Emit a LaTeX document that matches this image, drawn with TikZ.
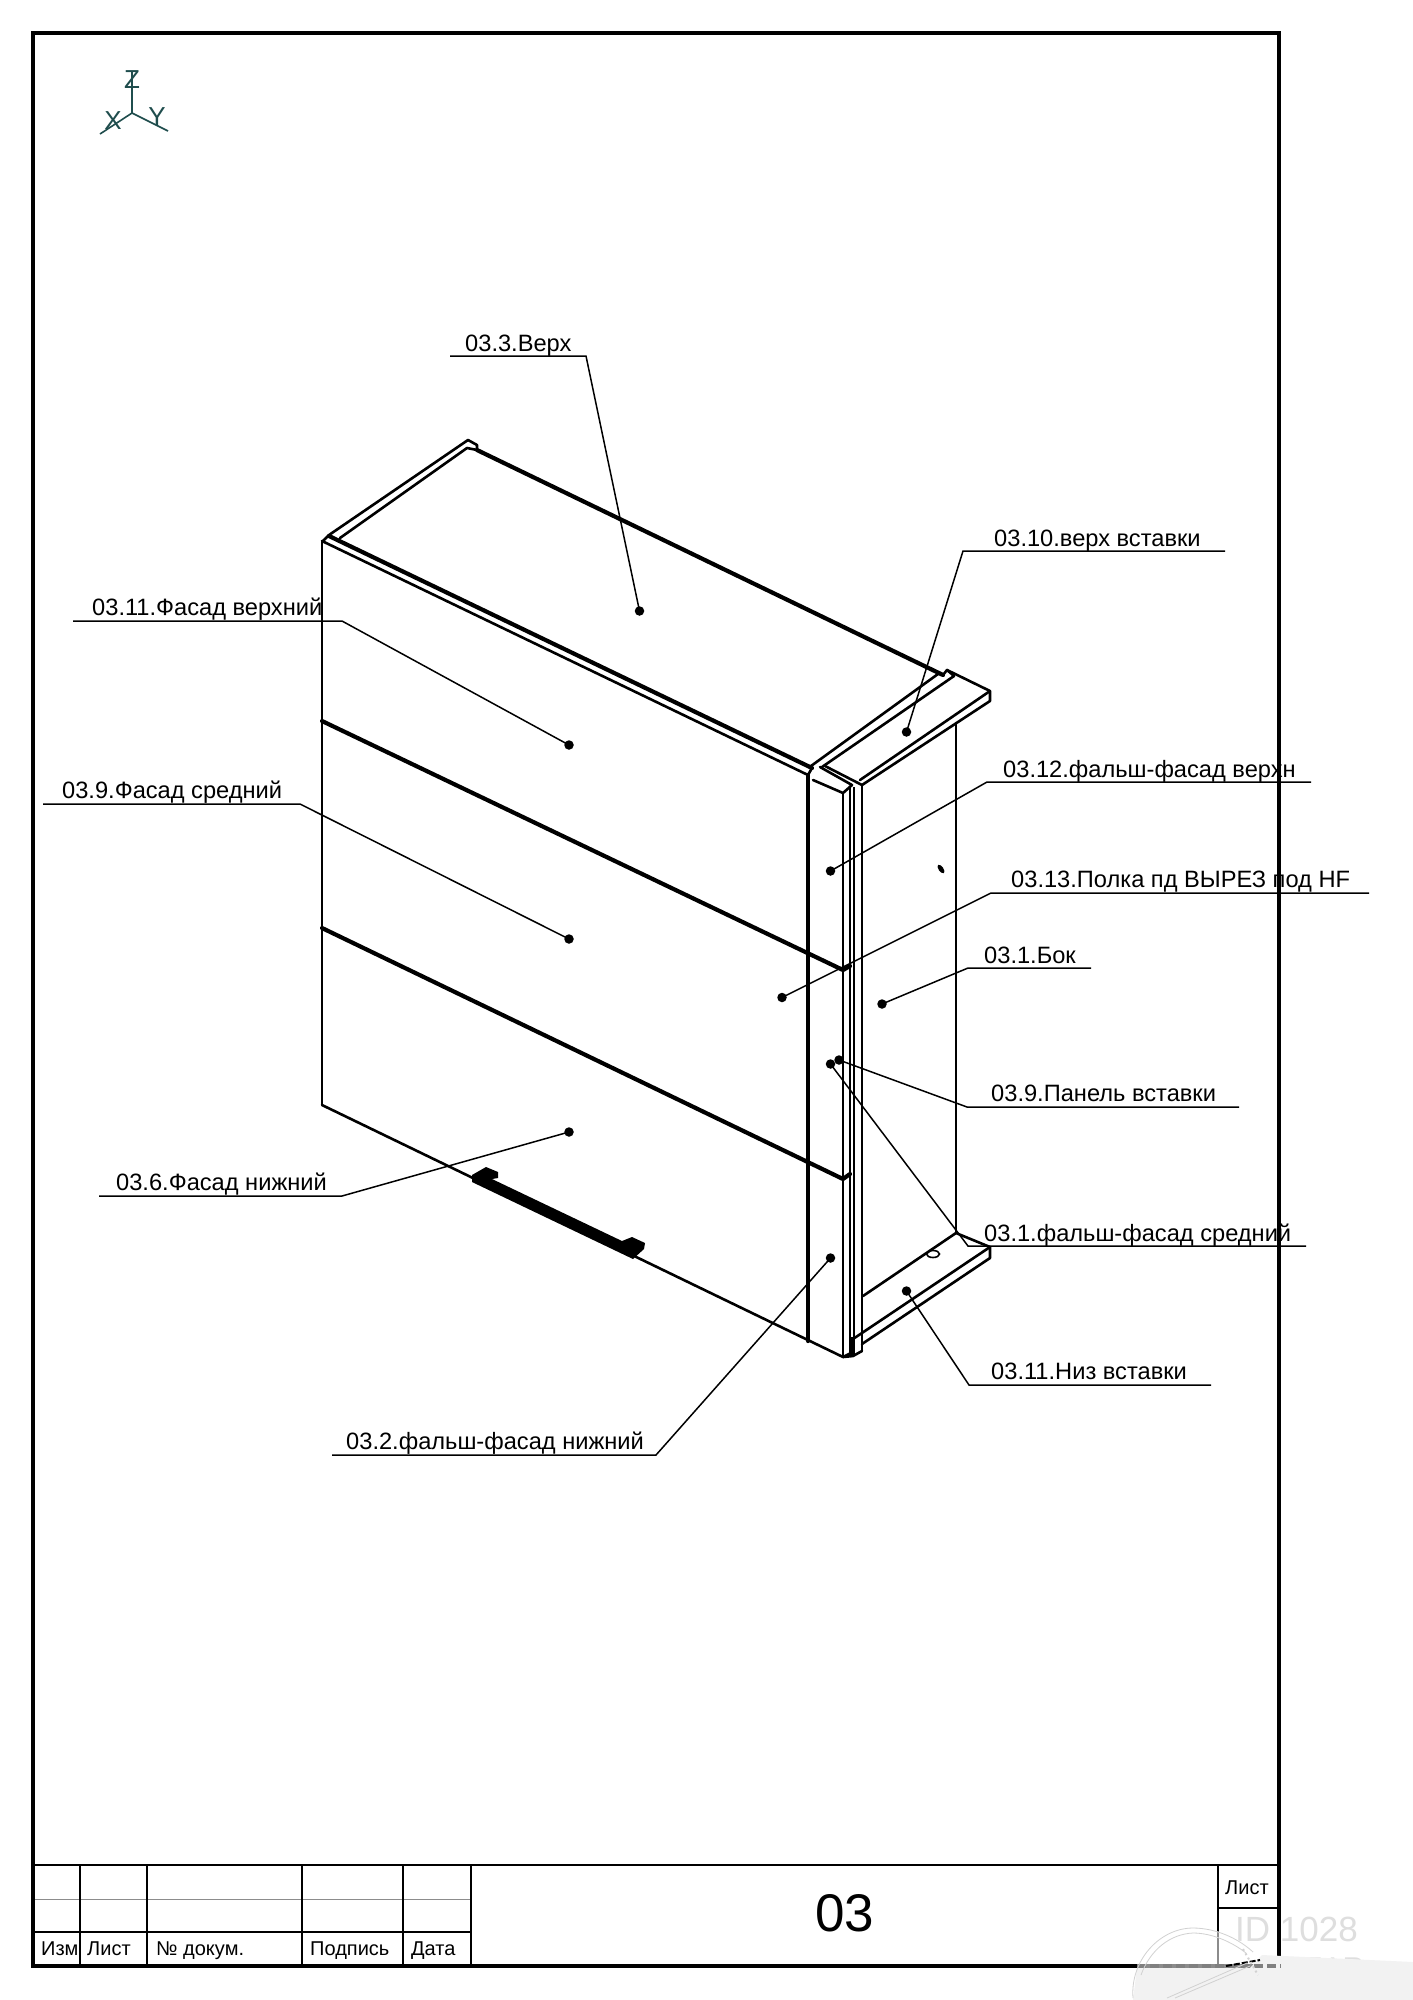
\documentclass[tikz,border=0pt]{standalone}
\usepackage{fontspec}
\setmainfont{Liberation Sans}
\definecolor{axiscol}{HTML}{1F4D4D}
\tikzset{
  edgeline/.style={line width=2.6pt,line cap=round,line join=round},
  thickedge/.style={line width=4.2pt,line cap=round,line join=round},
  leader/.style={line width=1.5pt},
  pin/.style={circle,fill=black,inner sep=0pt,minimum size=9.5pt},
  callout/.style={anchor=base west,inner sep=0pt,font=\fontsize{23.65}{27}\selectfont},
  cellline/.style={line width=2.8pt},
  celltext/.style={anchor=base west,inner sep=0pt,font=\fontsize{20}{24}\selectfont},
  axisline/.style={line width=1.6pt,color=axiscol},
  axistext/.style={inner sep=0pt,text=axiscol,font=\fontsize{26}{28}\selectfont},
  sealline/.style={line width=.8pt,color=black!18}
}
\begin{document}
\begin{tikzpicture}[x=1pt,y=-1pt]
\useasboundingbox (0,0) rectangle (1413,2000);
\fill[white] (0,0) rectangle (1413,2000);
% title block
\draw[line width=1pt,color=black!45] (33,1899) -- (471,1899);
\draw[cellline] (33,1865) -- (1279,1865);
\draw[cellline] (33,1932) -- (471,1932);
\foreach \x in {80,147,302,403,471} \draw[cellline] (\x,1865) -- (\x,1966);
\draw[cellline] (1218,1865) -- (1218,1966);
\draw[cellline] (1218,1908) -- (1279,1908);
\draw[line width=4.6pt] (33,33) rectangle (1279,1966);
\node[celltext] (tIzm) at (41,1955) {Изм};
\node[celltext] (tList) at (87,1955) {Лист};
\node[celltext] (tDoc) at (156,1955) {№ докум.};
\node[celltext] (tSign) at (310,1955) {Подпись};
\node[celltext] (tDate) at (411,1955) {Дата};
\node[celltext] (tSheet) at (1225,1894) {Лист};
\node[inner sep=0pt,font=\fontsize{53}{60}\selectfont] (tNum) at (844.5,1913) {03};
% watermark
\node[anchor=base west,inner sep=0pt,text=black!13,font=\fontsize{35}{40}\selectfont] (wmId) at (1235,1941) {ID 1028};
\node[anchor=base west,inner sep=0pt,text=black!13,font=\fontsize{30}{34}\selectfont] (wmBz) at (1264,1978) {BAZAR};
\fill[white,opacity=.55] (1137,1970) .. controls (1145,1945) and (1165,1928) .. (1193,1928) .. controls (1220,1928) and (1240,1938) .. (1253,1952) -- (1262,1970) -- cycle;
\fill[black!5] (1133,2000) -- (1137,1968) -- (1250,1968) -- (1262,1955) -- (1413,1962) -- (1413,2000) -- cycle;
\draw[line width=3.8pt,color=black!50,dash pattern=on 9pt off 4pt] (1137,1966) -- (1281,1966);
\draw[line width=2pt,dash pattern=on 6pt off 2pt] (1226,1966) -- (1260,1960);
\draw[sealline] (1133,1998) .. controls (1130,1960) and (1160,1928) .. (1193,1928) .. controls (1215,1928) and (1238,1938) .. (1253,1952);
\draw[sealline] (1141,1975) .. controls (1150,1950) and (1170,1934) .. (1193,1933) .. controls (1212,1933) and (1232,1942) .. (1246,1953);
\draw[sealline] (1167,1998) -- (1247,1963);
\draw[sealline] (1175,1998) -- (1250,1966);
\draw[sealline,dash pattern=on 2pt off 3pt,line width=2pt] (1243,1949) -- (1258,1975);
% axes
\coordinate (o) at (132,113);
\coordinate (az) at (132,72);
\coordinate (ax) at (100,134);
\coordinate (ay) at (168,131);
\draw[axisline] (o) -- (az) (o) -- (ax) (o) -- (ay);
\node[axistext] (lz) at (132,80) {Z};
\node[axistext] (lx) at (113,121) {X};
\node[axistext] (ly) at (157,117) {Y};
% top panel
\draw[edgeline] (329,535) -- (468,440) -- (477,445) -- (477,450);
\draw[edgeline] (340,538) -- (467,448) -- (477,450);
\draw[thickedge] (477,450) -- (943,675);
\draw[thickedge] (329,536) -- (812,768);
\draw[edgeline] (322,542) -- (329,535);
\draw[edgeline] (322,541) -- (808,775);
\draw[edgeline] (813,780) -- (843,793) -- (852,785) -- (820,767);
\draw[edgeline] (808,775) -- (812,768);
% top insert
\draw[edgeline] (811,766) -- (938,674);
\draw[edgeline] (822,767) -- (954,676) -- (947,670) -- (943,675);
\draw[edgeline] (947,670) -- (990,691) -- (990,701) -- (862,785);
\draw[edgeline] (860,780) -- (990,691);
\draw[edgeline] (825,766) -- (862,785);
% front and side verticals
\draw[edgeline] (322,541) -- (322,1105);
\draw[thickedge] (808,775) -- (808,1341);
\draw[edgeline] (843,793) -- (843,1357);
\draw[edgeline] (850,788) -- (850,1353);
\draw[line width=1.6pt] (854,787) -- (854,1356);
\draw[edgeline] (862,785) -- (862,1351);
\draw[edgeline] (956,723) -- (956,1233);
% front divisions
\draw[thickedge] (322,721) -- (843,970) -- (850,966);
\draw[thickedge] (322,928) -- (843,1179) -- (850,1174);
\draw[edgeline] (322,1105) -- (843,1357) -- (851,1353);
\draw[edgeline] (843,1357) -- (853,1356) -- (862,1351);
% handle
\fill (472,1175) -- (486,1167) -- (498,1172) -- (498,1178) -- (492,1179) -- (622,1241) -- (632,1237) -- (645,1243) -- (644,1249) -- (633,1259) -- (472,1182) -- cycle;
% bottom insert
\draw[edgeline] (863,1296) -- (956,1233) -- (990,1247) -- (990,1258) -- (862,1344);
\draw[edgeline] (990,1247) -- (853,1339);
\draw[thickedge] (852,1339) -- (852,1354);
% holes
\fill[rotate around={-55:(941,869)}] (941,869) ellipse (5pt and 2.4pt);
\draw[line width=1.6pt] (933,1254) ellipse (6.5pt and 3.5pt);
% pins
\node[pin] (p3) at (639.5,611) {};
\node[pin] (p10) at (906.5,732) {};
\node[pin] (p11) at (569,745) {};
\node[pin] (p9f) at (569,939) {};
\node[pin] (p12) at (830.5,871) {};
\node[pin] (p13) at (782,997.5) {};
\node[pin] (p1) at (882,1004) {};
\node[pin] (p9p) at (839,1060) {};
\node[pin] (p1f) at (830.5,1064) {};
\node[pin] (p11n) at (906.5,1291) {};
\node[pin] (p2) at (830.5,1258) {};
\node[pin] (p6) at (569,1132) {};
% labels
\node[callout] (l3) at (465,351) {03.3.Верх};
\node[callout] (l10) at (994,546) {03.10.верх вставки};
\node[callout] (l11) at (92,615) {03.11.Фасад верхний};
\node[callout] (l9f) at (62,798) {03.9.Фасад средний};
\node[callout] (l12) at (1003,777) {03.12.фальш-фасад верхн};
\node[callout] (l13) at (1011,887) {03.13.Полка пд ВЫРЕЗ под HF};
\node[callout] (l1) at (984,963) {03.1.Бок};
\node[callout] (l9p) at (991,1101) {03.9.Панель вставки};
\node[callout] (l1f) at (984,1241) {03.1.фальш-фасад средний};
\node[callout] (l11n) at (991,1379) {03.11.Низ вставки};
\node[callout] (l2) at (346,1449) {03.2.фальш-фасад нижний};
\node[callout] (l6) at (116,1190) {03.6.Фасад нижний};
% leaders
\draw[leader] (450,356) -- (586,356) -- (p3.center);
\draw[leader] (1225,551) -- (963,551) -- (p10.center);
\draw[leader] (73,621) -- (342,621) -- (p11.center);
\draw[leader] (43,804) -- (300,804) -- (p9f.center);
\draw[leader] (1311,782) -- (987,782) -- (p12.center);
\draw[leader] (1369,893) -- (991,893) -- (p13.center);
\draw[leader] (1091,968) -- (968,968) -- (p1.center);
\draw[leader] (1239,1107) -- (967,1107) -- (p9p.center);
\draw[leader] (1306,1246) -- (968,1246) -- (p1f.center);
\draw[leader] (1211,1385) -- (969,1385) -- (p11n.center);
\draw[leader] (332,1455) -- (656,1455) -- (p2.center);
\draw[leader] (99,1196) -- (342,1196) -- (p6.center);
\end{tikzpicture}
\end{document}
